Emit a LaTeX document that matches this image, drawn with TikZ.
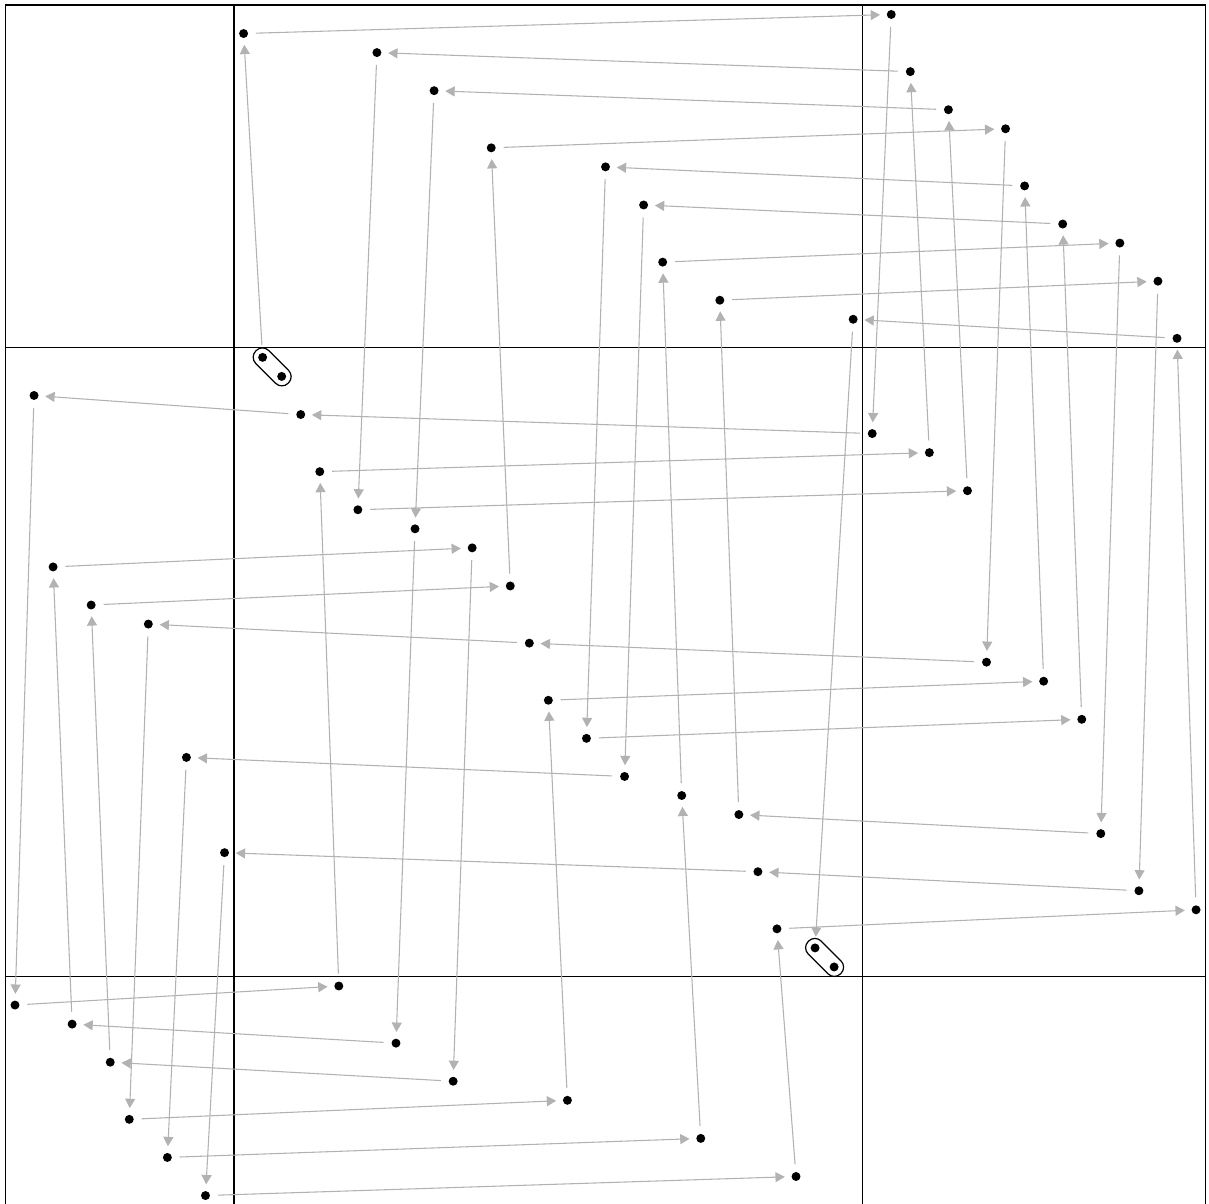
\documentclass[tikz,border=0pt]{standalone}
\usetikzlibrary{arrows.meta}
\begin{document}
\begin{tikzpicture}[x=0.5cm, y=0.5cm,
        pt/.style={circle, fill=black, inner sep=0pt, minimum size=0.235cm},
        lien/.style={gray!60, line width=0.8pt, -{Triangle[length=7pt, width=7.5pt]},
                     shorten <=0.2cm, shorten >=0.17cm},
        gelule/.style={draw=black, line width=0.9pt, rounded corners=0.23cm, rotate=-45,
                       minimum width=1.2cm, minimum height=0.48cm, inner sep=0pt}]
                \useasboundingbox (-0.787, 0.76) rectangle (62.68, -62.44);

                % cadre et coupures
                \draw[line width=0.9pt] (-0.5, 0.5) rectangle (62.5, -62.5);
                \draw[line width=0.9pt] (11.5, 0.5) -- (11.5, -62.5);
                \draw[line width=0.9pt] (44.5, 0.5) -- (44.5, -62.5);
                \draw[line width=0.9pt] (-0.5, -17.5) -- (62.5, -17.5);
                \draw[line width=0.9pt] (-0.5, -50.5) -- (62.5, -50.5);

                % points (colonne/ligne)
                \foreach \i/\j in {0/52, 1/20, 2/29, 3/53, 4/31, 5/55, 6/58, 7/32, 8/60, 9/39,
                                   10/62, 11/44, 12/1, 13/18, 14/19, 15/21, 16/24, 17/51, 18/26, 19/2,
                                   20/54, 21/27, 22/4, 23/56, 24/28, 25/7, 26/30, 27/33, 28/36, 29/57,
                                   30/38, 31/8, 32/40, 33/10, 34/13, 35/41, 36/59, 37/15, 38/42, 39/45,
                                   40/48, 41/61, 42/49, 43/50, 44/16, 45/22, 46/0, 47/3, 48/23, 49/5,
                                   50/25, 51/34, 52/6, 53/9, 54/35, 55/11, 56/37, 57/43, 58/12, 59/46,
                                   60/14, 61/17, 62/47}
                        \node[pt] (p\i) at (\i, -\j) {};

                \node[gelule] (g1) at (13.5, -18.5) {};
                \node[gelule] (g2) at (42.5, -49.5) {};

                % chemin
                \foreach \a/\b in {13/12, 12/46, 46/45, 45/15, 15/1, 1/0, 0/17, 17/16, 16/48, 48/47,
                                   47/19, 19/18, 18/50, 50/49, 49/22, 22/21, 21/20, 20/3, 3/2, 2/24,
                                   24/23, 23/5, 5/4, 4/26, 26/25, 25/52, 52/51, 51/27, 27/7, 7/6,
                                   6/29, 29/28, 28/54, 54/53, 53/31, 31/30, 30/56, 56/55, 55/33, 33/32,
                                   32/9, 9/8, 8/36, 36/35, 35/34, 34/58, 58/57, 57/38, 38/37, 37/60,
                                   60/59, 59/39, 39/11, 11/10, 10/41, 41/40, 40/62, 62/61, 61/44, 44/42}
                        \draw[lien] (p\a) -- (p\b);
            \end{tikzpicture}
\end{document}
